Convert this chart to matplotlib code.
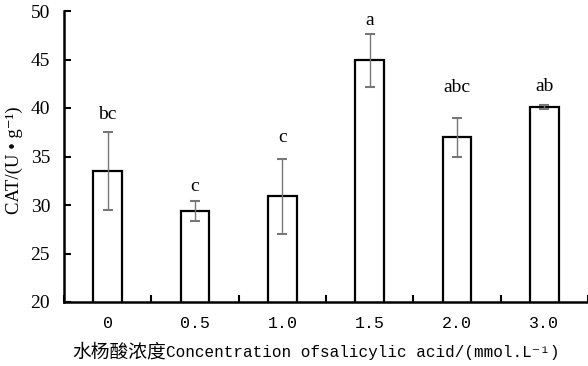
import matplotlib
matplotlib.use("Agg")
import matplotlib.pyplot as plt
import numpy as np

# data
conc = ["0", "0.5", "1.0", "1.5", "2.0", "3.0"]
cat_mean = [33.5, 29.4, 30.9, 44.9, 37.0, 40.1]
cat_err = [4.0, 1.0, 3.85, 2.7, 2.0, 0.25]
letras = ["bc", "c", "c", "a", "abc", "ab"]

# how far above the error bar each letter sits (layout only)
sep_letra = [1.8, 1.5, 2.2, 1.4, 3.1, 1.85]

serif = ["Liberation Serif", "Noto Sans CJK SC", "DejaVu Serif"]
mono = ["Liberation Mono", "Noto Sans CJK SC", "DejaVu Sans"]

fig = plt.figure(figsize=(5.88, 3.66), dpi=100)
ax = fig.add_axes([64/588, 1-302/366, 1-64/588, (302-11)/366])

x = np.arange(len(conc))
ax.bar(x, cat_mean, width=0.33, bottom=0, color="white", edgecolor="black", linewidth=1.6, zorder=2)
linea, caps, barras = ax.errorbar(x, cat_mean, yerr=cat_err, fmt="none", ecolor="#777777",
                                  elinewidth=1.0, capsize=3.6, capthick=1.5, zorder=3)
for c in caps:
	c.set_color("black")

for i in range(len(conc)):
	ax.text(x[i], cat_mean[i] + cat_err[i] + sep_letra[i], letras[i], ha="center", va="center",
	        fontsize=14, family=serif)

ax.set_ylim(20, 50)
ax.set_xlim(-0.5, 5.5)
ax.set_yticks([20, 25, 30, 35, 40, 45, 50])
ax.set_yticklabels(["20", "25", "30", "35", "40", "45", "50"], family=serif, fontsize=14)
ax.set_xticks(x)
ax.set_xticklabels(conc, family=mono, fontsize=12)
ax.set_xticks(np.arange(-0.5, 6, 1), minor=True)
ax.tick_params(axis="x", which="major", length=0, pad=10)
ax.tick_params(axis="x", which="minor", direction="in", length=5, width=1.5)
ax.tick_params(axis="y", direction="in", length=5, width=1.5, pad=10)

for s in ["top", "right"]:
	ax.spines[s].set_visible(False)
for s in ["left", "bottom"]:
	ax.spines[s].set_linewidth(1.8)

ax.set_ylabel("CAT/(U \u2022 g\u207b\u00b9)", family=serif, fontsize=13.5)
ax.yaxis.set_label_coords(-0.078, 0.488)

# x label: chinese part a bit larger than the latin part, as in the original
yl = (302 - 352) / 291
xc = (166 - 64) / 524
ax.text(xc, yl, "水杨酸浓度", transform=ax.transAxes, ha="right", va="center",
        family=["Noto Sans CJK SC"], fontsize=13.5)
ax.text(xc, yl, "Concentration ofsalicylic acid/(mmol.L\u207b\u00b9)", transform=ax.transAxes,
        ha="left", va="center", family=mono, fontsize=11.5)

plt.savefig("out.png", dpi=100)
